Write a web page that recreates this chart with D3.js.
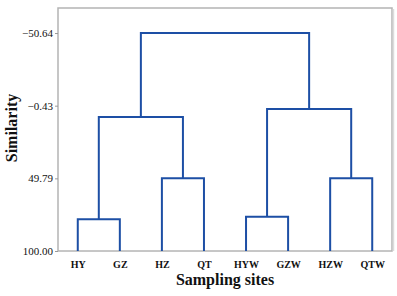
<!DOCTYPE html>
<html>
<head>
<meta charset="utf-8">
<script src="https://cdn.jsdelivr.net/npm/d3@7"></script>
<style>
  body { margin: 0; background: #fff; }
  svg { display: block; }
</style>
</head>
<body>
<div id="dendro"></div>
<script>
// leaves in plot order
var sites = ["HY", "GZ", "HZ", "QT", "HYW", "GZW", "HZW", "QTW"];
// y axis tick labels
var simTicks = [-50.64, -0.43, 49.79, 100.00];
// merges: [left child, right child, similarity level]
var merges = [
  ["HY", "GZ", 78.1],
  ["HZ", "QT", 49.79],
  ["HYW", "GZW", 76.3],
  ["HZW", "QTW", 49.79],
  ["m0", "m1", 7.4],
  ["m2", "m3", 1.9],
  ["m4", "m5", -50.64]
];

var width = 397, height = 296;
var margin = {top: 8, right: 5, bottom: 45, left: 58};
var w = width - margin.left - margin.right,
    h = height - margin.top - margin.bottom;

var svg = d3.select("#dendro")
  .append("svg")
    .attr("width", width)
    .attr("height", height);

var g = svg.append("g")
    .attr("transform", "translate(" + margin.left + "," + margin.top + ")");

var x = d3.scalePoint()
  .domain(sites)
  .range([0, w])
  .padding(0.47);

var y = d3.scaleLinear()
  .domain([100, -50.64 - 17.3])
  .range([h, 0]);

// frame
g.append("rect")
  .attr("x", 0).attr("y", 0)
  .attr("width", w).attr("height", h)
  .attr("fill", "none")
  .attr("stroke", "#b4b4b4")
  .attr("stroke-width", 1.5);
g.append("line")
  .attr("x1", w + 1.5).attr("x2", w + 1.5)
  .attr("y1", 1).attr("y2", h)
  .attr("stroke", "#dcdcdc")
  .attr("stroke-width", 1.5);

// Y axis
var yAxis = g.append("g")
  .call(d3.axisLeft(y).tickValues(simTicks).tickSize(3).tickPadding(2)
    .tickFormat(function(d) { return d3.format(".2f")(d); }));
yAxis.select(".domain").remove();
yAxis.selectAll(".tick line").attr("stroke", "#999");
yAxis.selectAll(".tick text")
  .attr("font-family", "'Liberation Serif', serif")
  .attr("font-size", 11)
  .attr("fill", "#111");

// X labels
var xAxis = g.append("g")
  .attr("transform", "translate(0," + h + ")")
  .call(d3.axisBottom(x).tickSize(0).tickPadding(10));
xAxis.select(".domain").remove();
xAxis.selectAll(".tick text")
  .attr("font-family", "'Liberation Serif', serif")
  .attr("font-weight", "bold")
  .attr("font-size", 10)
  .attr("fill", "#111");

// build node positions, draw each merge as a bracket
var nodes = {};
sites.forEach(function(s) { nodes[s] = {x: x(s), y: y(100)}; });
merges.forEach(function(m, i) {
  var a = nodes[m[0]], b = nodes[m[1]], yy = y(m[2]);
  g.append("path")
    .attr("d", "M" + a.x + "," + a.y + "V" + yy + "H" + b.x + "V" + b.y)
    .attr("fill", "none")
    .attr("stroke", "#1d4fa5")
    .attr("stroke-width", 2);
  nodes["m" + i] = {x: (a.x + b.x) / 2, y: yy};
});

// axis titles
svg.append("text")
  .attr("transform", "translate(17," + (margin.top + 120) + ") rotate(-90)")
  .attr("text-anchor", "middle")
  .attr("font-family", "'Liberation Serif', serif")
  .attr("font-weight", "bold")
  .attr("font-size", 16)
  .attr("fill", "#111")
  .text("Similarity");

svg.append("text")
  .attr("x", margin.left + w / 2)
  .attr("y", 285)
  .attr("text-anchor", "middle")
  .attr("font-family", "'Liberation Serif', serif")
  .attr("font-weight", "bold")
  .attr("font-size", 16)
  .attr("fill", "#111")
  .text("Sampling sites");
</script>
</body>
</html>
